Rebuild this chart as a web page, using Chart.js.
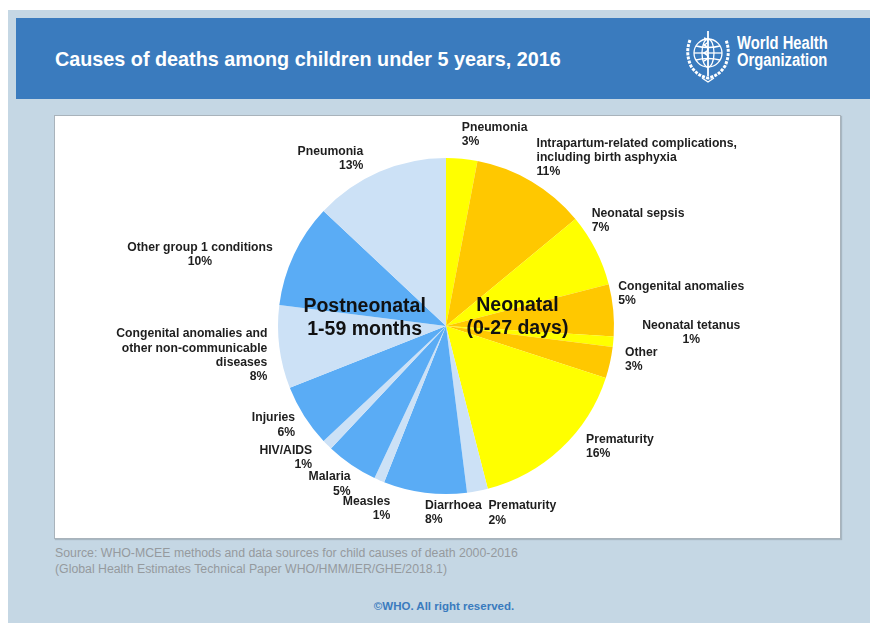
<!DOCTYPE html>
<html lang="en">
<head>
    <meta charset="UTF-8">
    <title>Causes of deaths among children under 5 years, 2016</title>
    <script src="https://cdn.jsdelivr.net/npm/chart.js"></script>
    <style>
        html, body {
            margin: 0;
            padding: 0;
            width: 870px;
            height: 623px;
            overflow: hidden;
            background: #ffffff;
            font-family: Arial, "Liberation Sans", sans-serif;
        }

        .page {
            position: absolute;
            left: 8px;
            top: 10px;
            width: 862px;
            height: 613px;
            background: #c5d7e4;
        }

        .header {
            position: absolute;
            left: 16px;
            top: 18px;
            width: 854px;
            height: 81px;
            background: #3a7bbe;
        }

        .header h1 {
            position: absolute;
            left: 39px;
            top: 30px;
            margin: 0;
            font-size: 19.8px;
            line-height: 22px;
            font-weight: bold;
            color: #ffffff;
            white-space: nowrap;
        }

        .logo {
            position: absolute;
            left: 666px;
            top: 8px;
        }

        .logo-text {
            position: absolute;
            left: 721px;
            top: 17px;
            font-family: Arial, "Liberation Sans", sans-serif;
            font-weight: bold;
            font-size: 18px;
            line-height: 17px;
            color: #ffffff;
            transform: scaleX(0.82);
            transform-origin: left top;
            white-space: nowrap;
        }

        .panel {
            position: absolute;
            left: 54px;
            top: 115px;
            width: 785px;
            height: 422px;
            background: #ffffff;
            border: 1px solid #a9b3bb;
            box-shadow: 1px 1px 1px rgba(0, 0, 0, 0.15);
        }

        .source {
            position: absolute;
            left: 55px;
            top: 545px;
            font-size: 12.3px;
            line-height: 16px;
            color: #959a9e;
        }

        .copyright {
            position: absolute;
            left: 0;
            width: 888px;
            top: 600px;
            text-align: center;
            font-size: 11.5px;
            font-weight: bold;
            color: #3a7bbe;
        }

        #chart {
            position: absolute;
            left: 0;
            top: 0;
        }
    </style>
</head>
<body>
    <div class="page"></div>
    <div class="header">
        <h1>Causes of deaths among children under 5 years, 2016</h1>
        <svg class="logo" width="52" height="60" viewBox="0 0 52 60">
            <g fill="none" stroke="#ffffff" stroke-width="1.3">
                <circle cx="26" cy="27" r="14"/>
                <ellipse cx="26" cy="27" rx="6" ry="14"/>
                <line x1="12" y1="27" x2="40" y2="27"/>
                <path d="M14 20 Q26 23 38 20 M14 34 Q26 31 38 34"/>
                <path d="M8 14 Q3 27 9 40 Q15 50 26 52 Q37 50 43 40 Q49 27 44 14" stroke-width="3" stroke-dasharray="3 1.2"/>
                <line x1="26" y1="5" x2="26" y2="50" stroke-width="1.8"/>
                <path d="M22 12 Q30 15 22 19 Q30 23 22 27 Q30 31 22 35" stroke-width="1.4"/>
                <path d="M20 52 L26 56 L32 52"/>
            </g>
        </svg>
        <div class="logo-text">World Health<br>Organization</div>
    </div>
    <div class="panel"></div>
    <div class="source">Source: WHO-MCEE methods and data sources for child causes of death 2000-2016<br>(Global Health Estimates Technical Paper WHO/HMM/IER/GHE/2018.1)</div>
    <div class="copyright">&copy;WHO. All right reserved.</div>
    <canvas id="chart" width="870" height="623"></canvas>

    <script>
        // slices clockwise from 12 o'clock: neonatal first, then postneonatal
        const causes = [
            'Pneumonia',
            'Intrapartum-related complications,\nincluding birth asphyxia',
            'Neonatal sepsis',
            'Congenital anomalies',
            'Neonatal tetanus',
            'Other',
            'Prematurity',
            'Prematurity',
            'Diarrhoea',
            'Measles',
            'Malaria',
            'HIV/AIDS',
            'Injuries',
            'Congenital anomalies and\nother non-communicable\ndiseases',
            'Other group 1 conditions',
            'Pneumonia'
        ];
        const shares = [3, 11, 7, 5, 1, 3, 16, 2, 8, 1, 5, 1, 6, 8, 10, 13];

        const groupNames = ['Neonatal\n(0-27 days)', 'Postneonatal\n1-59 months'];
        const groupFirst = [0, 7];
        const groupLast = [6, 15];

        // look: colours alternate inside each group
        const neoColors = ['#ffff00', '#ffc800'];
        const postColors = ['#cce1f6', '#5aacf5'];
        const sliceColors = shares.map((v, i) => i <= groupLast[0]
            ? neoColors[i % 2]
            : postColors[(i - groupFirst[1]) % 2]);

        // label placement, offset from the outer arc point at each slice's mid angle
        const labelPos = [
            { align: 'left', dx: 0, dy: -31 },
            { align: 'left', dx: 5, dy: -38 },
            { align: 'left', dx: -4, dy: -36 },
            { align: 'left', dx: 5, dy: -24 },
            { align: 'center', dx: 78, dy: -16 },
            { align: 'left', dx: 15, dy: -10 },
            { align: 'left', dx: 25, dy: -9 },
            { align: 'left', dx: 11, dy: 15 },
            { align: 'left', dx: 0, dy: 13 },
            { align: 'right', dx: 11, dy: 21 },
            { align: 'right', dx: -1, dy: 12 },
            { align: 'right', dx: -15, dy: 6 },
            { align: 'right', dx: -9, dy: 2 },
            { align: 'right', dx: -12, dy: -13 },
            { align: 'center', dx: -94, dy: -7 },
            { align: 'right', dx: -16, dy: -20 }
        ];
        const groupPos = [{ r: 72, dy: 0 }, { r: 82, dy: -18 }];

        const labelPlugin = {
            id: 'sliceLabels',
            afterDatasetsDraw(chart) {
                const ctx = chart.ctx;
                const arcs = chart.getDatasetMeta(0).data;
                ctx.save();
                ctx.fillStyle = '#1e1e1e';
                ctx.textBaseline = 'middle';
                ctx.font = 'bold 12.2px Arial, "Liberation Sans", sans-serif';
                arcs.forEach((arc, i) => {
                    const mid = (arc.startAngle + arc.endAngle) / 2;
                    const px = arc.x + arc.outerRadius * Math.cos(mid);
                    const py = arc.y + arc.outerRadius * Math.sin(mid);
                    const pos = labelPos[i];
                    const lines = causes[i].split('\n').concat(shares[i] + '%');
                    ctx.textAlign = pos.align;
                    lines.forEach((line, k) => {
                        ctx.fillText(line, px + pos.dx, py + pos.dy + k * 14.2);
                    });
                });

                ctx.fillStyle = '#111111';
                ctx.textAlign = 'center';
                ctx.font = 'bold 19.5px Arial, "Liberation Sans", sans-serif';
                groupNames.forEach((name, g) => {
                    const a0 = arcs[groupFirst[g]].startAngle;
                    const a1 = arcs[groupLast[g]].endAngle;
                    const mid = (a0 + a1) / 2;
                    const cx = arcs[0].x + groupPos[g].r * Math.cos(mid);
                    const cy = arcs[0].y + groupPos[g].r * Math.sin(mid) + groupPos[g].dy;
                    const lines = name.split('\n');
                    lines.forEach((line, k) => {
                        ctx.fillText(line, cx, cy + (k - (lines.length - 1) / 2) * 23);
                    });
                });
                ctx.restore();
            }
        };

        new Chart(document.getElementById('chart'), {
            type: 'pie',
            data: {
                labels: causes,
                datasets: [{
                    data: shares,
                    backgroundColor: sliceColors,
                    borderWidth: 0
                }]
            },
            options: {
                responsive: false,
                animation: false,
                events: [],
                layout: {
                    padding: { left: 278, right: 256, top: 158, bottom: 129 }
                },
                plugins: {
                    legend: { display: false },
                    tooltip: { enabled: false },
                    title: { display: false }
                }
            },
            plugins: [labelPlugin]
        });
    </script>
</body>
</html>
